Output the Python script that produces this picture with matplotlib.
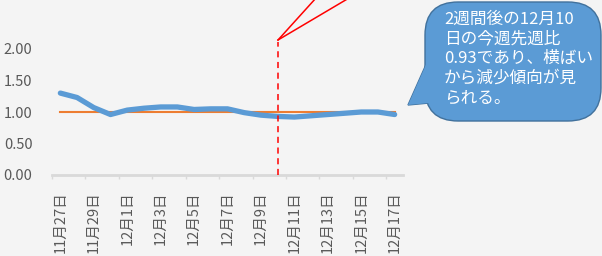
import matplotlib.pyplot as plt
import matplotlib.patches as mpatches
from matplotlib.lines import Line2D

plt.rcParams['font.family'] = ['Noto Sans CJK JP', 'DejaVu Sans']
plt.rcParams['hatch.color'] = '#D4D4D4'
plt.rcParams['hatch.linewidth'] = 0.6

# data
dates = ['11月27日', '11月28日', '11月29日', '11月30日', '12月1日', '12月2日',
         '12月3日', '12月4日', '12月5日', '12月6日', '12月7日', '12月8日',
         '12月9日', '12月10日', '12月11日', '12月12日', '12月13日', '12月14日',
         '12月15日', '12月16日', '12月17日']
ratio = [1.30, 1.23, 1.07, 0.96, 1.03, 1.06, 1.08, 1.08, 1.04, 1.05, 1.05,
         0.99, 0.95, 0.93, 0.92, 0.94, 0.96, 0.98, 1.00, 1.00, 0.96]
baseline = [1.00] * len(dates)
y_ticks = [0.00, 0.50, 1.00, 1.50, 2.00]
marked_idx = 13  # 12月10日
note = '2週間後の12月10\n日の今週先週比\n0.93であり、横ばい\nから減少傾向が見\nられる。'

W, H = 602, 256
fig = plt.figure(figsize=(W / 100, H / 100), dpi=100)
fig.patch.set_facecolor('#F2F2F2')


def fx(px):
    return px / W


def fy(py):
    return 1 - py / H


# dotted background texture
fig.add_artist(mpatches.Rectangle((0, 0), 1, 1, facecolor='#F4F4F4',
                                  edgecolor='none', hatch='........',
                                  transform=fig.transFigure, zorder=0))

ax = fig.add_axes([fx(52), fy(175), fx(403) - fx(52), fy(17.5) - fy(175)])
ax.set_facecolor('none')

x = list(range(len(dates)))
ax.plot(x, baseline, color='#ED7D31', lw=1.5, zorder=2)
ax.plot(x, ratio, color='#5B9BD5', lw=3.8, solid_capstyle='round',
        solid_joinstyle='round', zorder=3)
ax.plot([marked_idx, marked_idx], [0, 2.11], color='#FF0000', lw=1.1,
        dashes=(4, 3), clip_on=False, zorder=4)

ax.set_xlim(-0.5, len(dates) - 0.5)
ax.set_ylim(0, 2.5)

ax.set_xticks(x[::2])
ax.set_xticklabels(dates[::2], rotation=90, fontsize=10.5, color='#595959')
ax.tick_params(axis='x', length=0, pad=12)
ax.set_xticks([i - 0.5 for i in range(0, len(dates), 2)], minor=True)
ax.tick_params(axis='x', which='minor', length=3, width=1, color='#D9D9D9')

ax.set_yticks(y_ticks)
ax.set_yticklabels([f'{v:.2f}' for v in y_ticks], fontsize=10.5, color='#595959')
ax.tick_params(axis='y', length=0, pad=14)

for s in ['top', 'right', 'left']:
    ax.spines[s].set_visible(False)
ax.spines['bottom'].set_color('#D9D9D9')
ax.spines['bottom'].set_linewidth(2)

# pointer lines of a callout above the crop
for ex in [316, 349]:
    fig.add_artist(Line2D([fx(278), fx(ex)], [fy(40), fy(-2)], color='#FF0000',
                          lw=1.1, transform=fig.transFigure))

# speech bubble
tail = [(fx(428), fy(60)), (fx(408), fy(105)), (fx(440), fy(102))]
fig.add_artist(mpatches.Polygon(tail, closed=True, facecolor='#5B9BD5',
                                edgecolor='#41719C', lw=1,
                                transform=fig.transFigure))
box = mpatches.FancyBboxPatch((fx(425), fy(121)), fx(601) - fx(425), fy(2) - fy(121),
                              boxstyle='round,pad=0,rounding_size=0.055',
                              mutation_aspect=W / H,
                              facecolor='#5B9BD5', edgecolor='#41719C', lw=1,
                              transform=fig.transFigure)
fig.add_artist(box)
fig.add_artist(mpatches.Polygon(tail, closed=True, facecolor='#5B9BD5',
                                edgecolor='none', transform=fig.transFigure))
fig.text(fx(444), fy(11), note, color='white', fontsize=12, va='top', ha='left',
         linespacing=1.2)

fig.savefig('out.png', dpi=100, facecolor=fig.get_facecolor())
